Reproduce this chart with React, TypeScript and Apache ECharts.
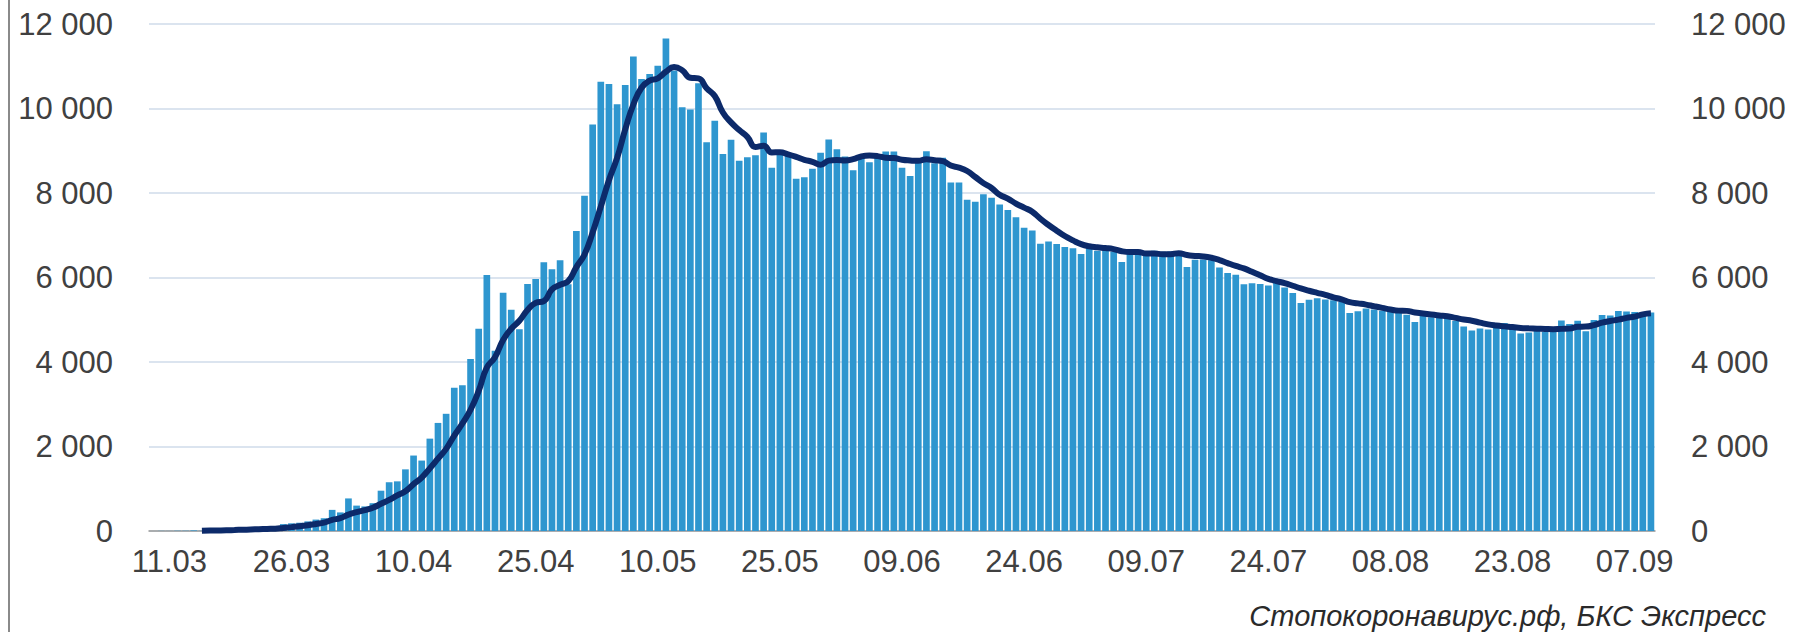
import React, { useEffect, useRef } from "react";
import * as echarts from "echarts";

// Daily new cases (09.03 … 09.09)
const dailyCases: number[] = [
  0, 3, 2, 6, 6, 14, 4, 30, 21, 33, 52, 54, 53, 61, 71, 57, 163, 182, 196, 228, 270, 302, 500,
  440, 771, 601, 582, 658, 954, 1154, 1175, 1459, 1786, 1667, 2186, 2558, 2774, 3388, 3448, 4070, 4785,
  6060, 4268, 5642, 5236, 4774, 5849, 5966, 6361, 6198, 6411, 5841, 7099,
  7933, 9623, 10633, 10581, 10102, 10559, 11231, 10699, 10817, 11012, 11656, 10899, 10028, 9974, 10598,
  9200, 9709, 8926, 9263, 8764, 8849, 8894, 9434, 8599, 8946, 8915, 8338, 8371, 8572, 8952, 9268,
  9035, 8863, 8536, 8831, 8726, 8855, 8984, 8985, 8595, 8404, 8779, 8987, 8706, 8835, 8246, 8248,
  7843, 7790, 7972, 7889, 7728, 7600, 7425, 7176, 7113, 6800, 6852, 6791, 6719, 6693,
  6556, 6760, 6632, 6736, 6611, 6368, 6562, 6562, 6509, 6635, 6611, 6615, 6537, 6248, 6422, 6428,
  6406, 6234, 6109, 6065, 5842, 5862, 5848, 5811, 5871, 5765, 5635, 5395, 5475, 5509, 5482,
  5462, 5427, 5159, 5204, 5267, 5241, 5212, 5189, 5241, 5118, 4945, 5102, 5057, 5065, 5061, 4969,
  4839, 4748, 4790, 4767, 4870, 4921, 4852, 4676, 4696, 4744, 4711, 4829, 4980, 4897, 4979,
  4729, 4995, 5110, 5099, 5205, 5195, 5185, 5099, 5172,
];

// Smoothed line (7-day average) read along the same days
const smoothedCases: (number | null)[] = [
  null, null, null, null, null, null, 5, 9, 12, 16, 23, 30, 35, 43, 49, 54, 73, 92, 112, 137, 167, 200, 263,
  303, 387, 445, 495, 551, 644, 737, 842, 940, 1110, 1265, 1483, 1712, 1944, 2260, 2544, 2870, 3316,
  3869, 4113, 4523, 4787, 4976, 5231, 5399, 5442, 5718, 5828, 5914, 6246,
  6544, 7067, 7677, 8303, 8830, 9504, 10095, 10490, 10660, 10714, 10868, 10982, 10906, 10726, 10712,
  10481, 10295, 9905, 9671, 9491, 9330, 9086, 9120, 8961, 8964, 8914, 8854, 8785, 8739, 8670, 8766,
  8779, 8771, 8800, 8865, 8887, 8873, 8833, 8826, 8787, 8769, 8761, 8798, 8777, 8756, 8650, 8601,
  8521, 8379, 8234, 8118, 7959, 7867, 7750, 7654, 7558, 7390, 7242, 7108, 6982, 6878,
  6789, 6739, 6715, 6698, 6672, 6622, 6604, 6604, 6569, 6569, 6551, 6552, 6576, 6531, 6511, 6499,
  6467, 6413, 6341, 6273, 6215, 6135, 6052, 5967, 5915, 5866, 5805, 5741, 5686, 5637, 5590,
  5532, 5484, 5416, 5388, 5359, 5320, 5282, 5243, 5216, 5210, 5173, 5150, 5123, 5102, 5084, 5045,
  5005, 4977, 4933, 4891, 4863, 4843, 4827, 4803, 4796, 4789, 4781, 4776, 4784, 4790, 4834,
  4838, 4874, 4931, 4970, 5002, 5045, 5074, 5127, 5152,
];

const monthLengths: number[] = [23, 30, 31, 30, 31, 31, 9];
const monthNumbers: string[] = ["03", "04", "05", "06", "07", "08", "09"];
const monthFirstDay: number[] = [9, 1, 1, 1, 1, 1, 1];

const categories: string[] = [];
monthLengths.forEach((len, m) => {
  for (let d = 0; d < len; d++) {
    const day = monthFirstDay[m] + d;
    categories.push(String(day).padStart(2, "0") + "." + monthNumbers[m]);
  }
});

const firstLabelIndex = 2;
const labelStep = 15;
const yTicks: number[] = [0, 2000, 4000, 6000, 8000, 10000, 12000];
const sourceText = "Стопокоронавирус.рф, БКС Экспресс";

const fmt = (v: number) => String(v).replace(/\B(?=(\d{3})+(?!\d))/g, " ");

export default function App() {
  const ref = useRef<HTMLDivElement>(null);
  useEffect(() => {
    if (!ref.current) return;
    const chart = echarts.init(ref.current, null, { renderer: "svg" });
    const font = "'Liberation Sans', Arial, sans-serif";
    const yAxisBase = {
      type: "value" as const,
      min: yTicks[0],
      max: yTicks[yTicks.length - 1],
      interval: 2000,
      axisLine: { show: false },
      axisTick: { show: false },
      axisLabel: { fontSize: 31, color: "#404040", fontFamily: font, formatter: (v: number) => fmt(v) },
    };
    chart.setOption({
      animation: false,
      backgroundColor: "#ffffff",
      grid: { left: 149, right: 138, top: 24, bottom: 101, containLabel: false },
      xAxis: {
        type: "category",
        data: categories,
        boundaryGap: true,
        axisLine: { show: true, lineStyle: { color: "#9a9a9a", width: 1.5 } },
        axisTick: { show: false },
        axisLabel: {
          interval: (i: number) => i >= firstLabelIndex && (i - firstLabelIndex) % labelStep === 0,
          fontSize: 31,
          color: "#404040",
          fontFamily: font,
          margin: 15,
        },
      },
      yAxis: [
        {
          ...yAxisBase,
          position: "left",
          splitLine: { show: true, lineStyle: { color: "#dbe4ef", width: 2 } },
          axisLabel: { ...yAxisBase.axisLabel, margin: 36 },
        },
        {
          ...yAxisBase,
          position: "right",
          splitLine: { show: false },
          axisLabel: { ...yAxisBase.axisLabel, margin: 36 },
        },
      ],
      series: [
        {
          type: "bar",
          data: dailyCases,
          barCategoryGap: "18%",
          itemStyle: { color: "#2e96cf" },
        },
        {
          type: "line",
          data: smoothedCases,
          smooth: 0.5,
          symbol: "none",
          connectNulls: false,
          lineStyle: { color: "#0c2a6a", width: 6 },
          z: 5,
        },
      ],
      graphic: [
        {
          type: "line",
          shape: { x1: 9, y1: 0, x2: 9, y2: 632 },
          style: { stroke: "#8a8a8a", lineWidth: 2 },
        },
        {
          type: "text",
          right: 27,
          top: 601,
          style: {
            text: sourceText,
            font: `italic 29px ${font}`,
            fill: "#2a2a2a",
          },
        },
      ],
    });
    return () => chart.dispose();
  }, []);
  return (
    <div
      ref={ref}
      style={{ position: "fixed", left: 0, top: 0, width: 1793, height: 632, background: "#fff" }}
    />
  );
}
